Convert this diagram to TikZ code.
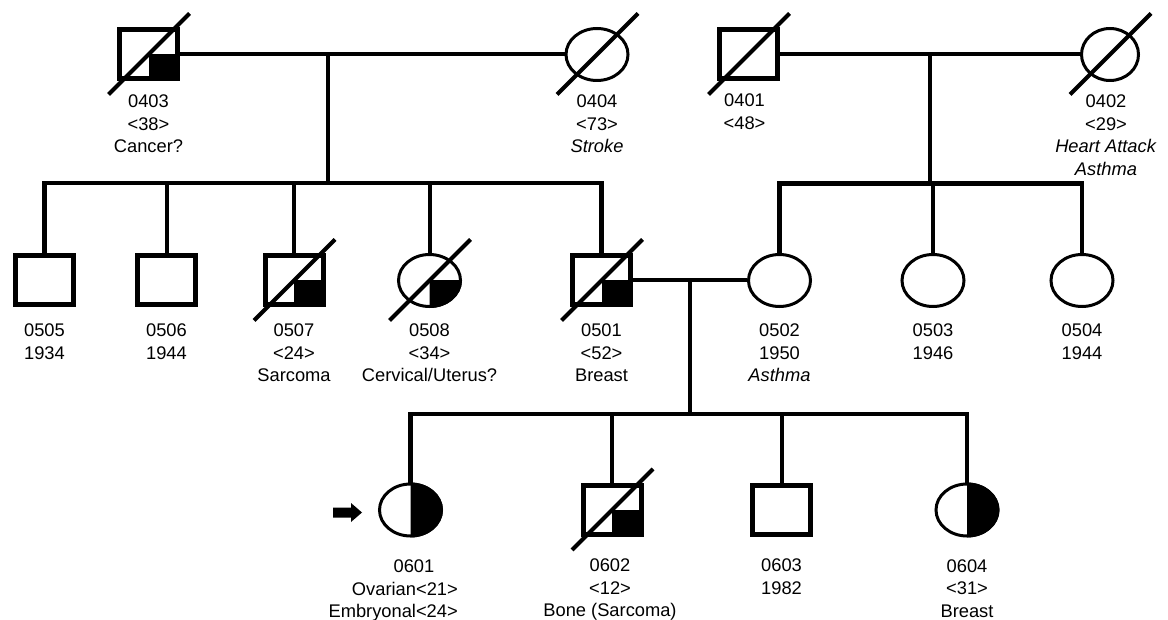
\documentclass[tikz,border=0pt]{standalone}
\usepackage{fontspec}
\setmainfont{Liberation Sans}
\usetikzlibrary{shapes.geometric,calc}
\newcommand\dline[1]{\draw[dead] ($(#1.center)+(-40,40)$) -- ($(#1.center)+(41,-41)$);}
\newcommand\sqfill[1]{\fill (#1.center) rectangle (#1.south east);}
\newcommand\elquad[1]{\begin{scope}\clip (#1.center) rectangle ++(40,40);\fill (#1.center) ellipse [x radius=32.5pt, y radius=27.5pt];\end{scope}}
\newcommand\elhalf[1]{\begin{scope}\clip ($(#1.center)+(0,-40)$) rectangle ++(40,80);\fill (#1.center) ellipse [x radius=32.5pt, y radius=27.5pt];\end{scope}}
\begin{document}
\begin{tikzpicture}[x=1pt,y=-1pt,
  male/.style={draw,rectangle,line width=5pt,minimum width=58pt,minimum height=49pt,inner sep=0pt,fill=white},
  female/.style={draw,ellipse,line width=3pt,minimum width=62pt,minimum height=52pt,inner sep=0pt,fill=white},
  conn/.style={line width=4pt},
  sib/.style={line width=4.5pt,line join=miter},
  dead/.style={line width=4pt},
  lab/.style={align=center,inner sep=0pt,anchor=north,font=\fontsize{18.3}{22.5}\selectfont},
]
\useasboundingbox (0,0) rectangle (1168,620);
\fill[white] (0,0) rectangle (1168,620);

% Generation I
\node[male] (i403) at (148.5,54.5) {};
\node[female] (i404) at (597,54.5) {};
\node[male] (i401) at (748.5,54.5) {};
\node[female,minimum width=57pt] (i402) at (1110,54.5) {};

% Generation II
\node[male] (p505) at (44.5,280.5) {};
\node[male] (p506) at (166.5,280.5) {};
\node[male] (p507) at (294,280.5) {};
\node[female] (p508) at (429.5,280.5) {};
\node[male] (p501) at (601.5,280.5) {};
\node[female] (p502) at (779.5,280.5) {};
\node[female] (p503) at (933,280.5) {};
\node[female] (p504) at (1082,280.5) {};

% Generation III
\node[female] (q601) at (410.5,510) {};
\node[male] (q602) at (612,510) {};
\node[male] (q603) at (781.5,510) {};
\node[female] (q604) at (967,510) {};

% affected fills
\sqfill{i403}\sqfill{p507}\sqfill{p501}\sqfill{q602}
\elquad{p508}
\elhalf{q601}\elhalf{q604}

% marriages and descent
\draw[conn] (i403.east) -- (i404.west);
\coordinate (m1) at ($(i403.east)+(148,0)$);
\coordinate (s1) at ($(m1)+(0,128.5)$);
\draw[conn] (m1) -- (s1);
\draw[sib] (p505.north) -- (p505.north |- s1) -- (p501.north |- s1) -- (p501.north);
\foreach \c in {p506,p507,p508} \draw[conn] (\c.north |- s1) -- (\c.north);

\draw[conn] (i401.east) -- (i402.west);
\coordinate (m2) at ($(i401.east)!0.5!(i402.west)$);
\coordinate (s2) at ($(m2)+(0,129)$);
\draw[conn] (m2) -- (s2);
\draw[sib] (p502.north) -- (p502.north |- s2) -- (p504.north |- s2) -- (p504.north);
\draw[conn] (p503.north |- s2) -- (p503.north);

\draw[conn] (p501.east) -- (p502.west);
\coordinate (m3) at ($(p501.east)!0.5!(p502.west)$);
\coordinate (s3) at ($(m3)+(0,133.5)$);
\draw[conn] (m3) -- (s3);
\draw[sib] (q601.north) -- (q601.north |- s3) -- (q604.north |- s3) -- (q604.north);
\foreach \c in {q602,q603} \draw[conn] (\c.north |- s3) -- (\c.north);

% deceased
\dline{i403}\dline{i404}\dline{i401}\dline{i402}
\dline{p507}\dline{p508}\dline{p501}\dline{q602}

% proband arrow
\fill (333,507.5) -- (351,507.5) -- (351,503) -- (362,512.5) -- (351,522) -- (351,517.5) -- (333,517.5) -- cycle;

% labels
\node[lab] (l403) at ($(i403.center)+(0,40.5)$) {0403\\<38>\\Cancer?};
\node[lab] (l404) at ($(i404.center)+(0,40.5)$) {0404\\<73>\\\textit{Stroke}};
\node[lab] (l401) at ($(i401.center)+(-4,39.5)$) {0401\\<48>};
\node[lab] (l402) at ($(i402.center)+(-4,40.5)$) {0402\\<29>\\\textit{Heart Attack}\\\textit{Asthma}};

\node[lab] (l505) at ($(p505.center)+(0,43.5)$) {0505\\1934};
\node[lab] (l506) at ($(p506.center)+(0,43.5)$) {0506\\1944};
\node[lab] (l507) at ($(p507.center)+(0,43.5)$) {0507\\<24>\\Sarcoma};
\node[lab] (l508) at ($(p508.center)+(0,43.5)$) {0508\\<34>\\Cervical/Uterus?};
\node[lab] (l501) at ($(p501.center)+(0,43.5)$) {0501\\<52>\\Breast};
\node[lab] (l502) at ($(p502.center)+(0,43.5)$) {0502\\1950\\\textit{Asthma}};
\node[lab] (l503) at ($(p503.center)+(0,43.5)$) {0503\\1946};
\node[lab] (l504) at ($(p504.center)+(0,43.5)$) {0504\\1944};

\node[lab] (l601) at ($(q601.center)+(3.5,49.5)$) {0601};
\node[lab,anchor=north east,align=right] (l601b) at ($(q601.center)+(47.5,72)$) {Ovarian<21>\\Embryonal<24>};
\node[lab] (l602) at ($(q602.center)+(-2,49)$) {0602\\<12>\\Bone (Sarcoma)};
\node[lab] (l603) at ($(q603.center)+(0,49)$) {0603\\1982};
\node[lab] (l604) at ($(q604.center)+(0,49.5)$) {0604\\<31>\\Breast};
\end{tikzpicture}
\end{document}
